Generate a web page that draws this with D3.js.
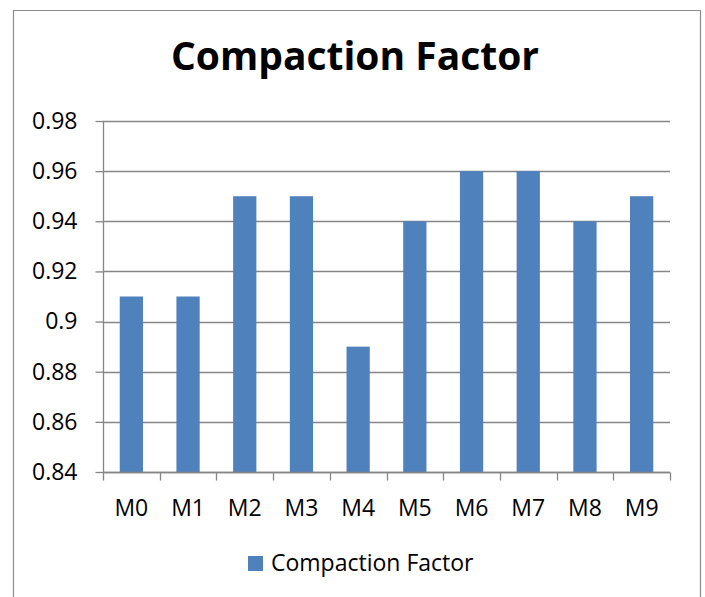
<!DOCTYPE html>
<html>
<head>
<meta charset="utf-8">
<script src="https://cdn.jsdelivr.net/npm/d3@7"></script>
<style>
  html, body { margin: 0; padding: 0; background: #fff; }
  svg { display: block; font-family: "Open Sans", "Noto Sans", sans-serif; }
</style>
</head>
<body>
<svg id="chart" width="705" height="597"></svg>
<script>
// Compaction factor per mix
const categories = ["M0", "M1", "M2", "M3", "M4", "M5", "M6", "M7", "M8", "M9"];
const compactionFactor = [0.91, 0.91, 0.95, 0.95, 0.89, 0.94, 0.96, 0.96, 0.94, 0.95];
const yTicks = [0.84, 0.86, 0.88, 0.90, 0.92, 0.94, 0.96, 0.98];
const yTickLabels = ["0.84", "0.86", "0.88", "0.9", "0.92", "0.94", "0.96", "0.98"];
const seriesName = "Compaction Factor";
const chartTitle = "Compaction Factor";

const svg = d3.select("#chart");
const barColor = "#4F81BD";
const lineColor = "#868686";
const labelSize = 23;

// outer chart frame
svg.append("path")
  .attr("d", "M13.5,600 V10.5 H700.5 V600")
  .attr("fill", "none")
  .attr("stroke", "#8c8c8c")
  .attr("stroke-width", 1.2);

const plot = { left: 103, right: 670, top: 121, bottom: 472 };

const x = d3.scaleBand()
  .domain(categories)
  .range([plot.left, plot.right])
  .paddingInner(0.59)
  .paddingOuter(0.295);

const xOuter = d3.scaleBand()
  .domain(categories)
  .range([plot.left, plot.right]);

const y = d3.scaleLinear()
  .domain([0.84, 0.98])
  .range([plot.bottom, plot.top]);

// title
svg.append("text")
  .attr("x", 355)
  .attr("y", 70)
  .attr("text-anchor", "middle")
  .attr("font-weight", "bold")
  .attr("font-size", 39)
  .attr("fill", "#000")
  .text(chartTitle);

// horizontal gridlines
svg.append("g")
  .selectAll("line")
  .data(yTicks)
  .join("line")
  .attr("x1", plot.left)
  .attr("x2", plot.right)
  .attr("y1", d => Math.round(y(d)) + 0.5)
  .attr("y2", d => Math.round(y(d)) + 0.5)
  .attr("stroke", lineColor)
  .attr("stroke-width", 1.3);

// y axis
const yAxis = d3.axisLeft(y)
  .tickValues(yTicks)
  .tickSize(8)
  .tickPadding(18)
  .tickFormat((d, i) => yTickLabels[i]);

const gy = svg.append("g")
  .attr("transform", `translate(${plot.left + 0.5},0)`)
  .call(yAxis);
gy.select(".domain").remove();
gy.selectAll(".tick line").attr("stroke", lineColor).attr("stroke-width", 1.3);
gy.selectAll(".tick text")
  .attr("font-size", labelSize)
  .attr("font-family", "\"Open Sans\", sans-serif")
  .attr("fill", "#000");
gy.append("line")
  .attr("x1", 0).attr("x2", 0)
  .attr("y1", plot.top).attr("y2", plot.bottom)
  .attr("stroke", lineColor).attr("stroke-width", 1.3);

// bars
svg.append("g")
  .selectAll("rect")
  .data(compactionFactor)
  .join("rect")
  .attr("x", (d, i) => x(categories[i]))
  .attr("width", x.bandwidth())
  .attr("y", d => y(d))
  .attr("height", d => y(0.84) - y(d))
  .attr("fill", barColor);

// x axis with category boundary ticks
const gx = svg.append("g")
  .attr("transform", `translate(0,${Math.round(plot.bottom) + 0.5})`);
gx.append("line")
  .attr("x1", plot.left).attr("x2", plot.right)
  .attr("stroke", lineColor).attr("stroke-width", 1.3);
const bounds = categories.map(c => xOuter(c)).concat([plot.right]);
gx.selectAll("line.tk")
  .data(bounds)
  .join("line")
  .attr("class", "tk")
  .attr("x1", d => Math.round(d) + 0.5)
  .attr("x2", d => Math.round(d) + 0.5)
  .attr("y1", 0).attr("y2", 8)
  .attr("stroke", lineColor).attr("stroke-width", 1.3);
gx.selectAll("text")
  .data(categories)
  .join("text")
  .attr("x", d => xOuter(d) + xOuter.bandwidth() / 2)
  .attr("y", 43)
  .attr("text-anchor", "middle")
  .attr("font-size", labelSize)
  .attr("fill", "#000")
  .text(d => d);

// legend
const legend = svg.append("g").attr("transform", "translate(248,556)");
legend.append("rect")
  .attr("width", 15).attr("height", 15)
  .attr("fill", barColor);
legend.append("text")
  .attr("x", 23)
  .attr("y", 15)
  .attr("font-size", labelSize)
  .attr("fill", "#000")
  .text(seriesName);
</script>
</body>
</html>
